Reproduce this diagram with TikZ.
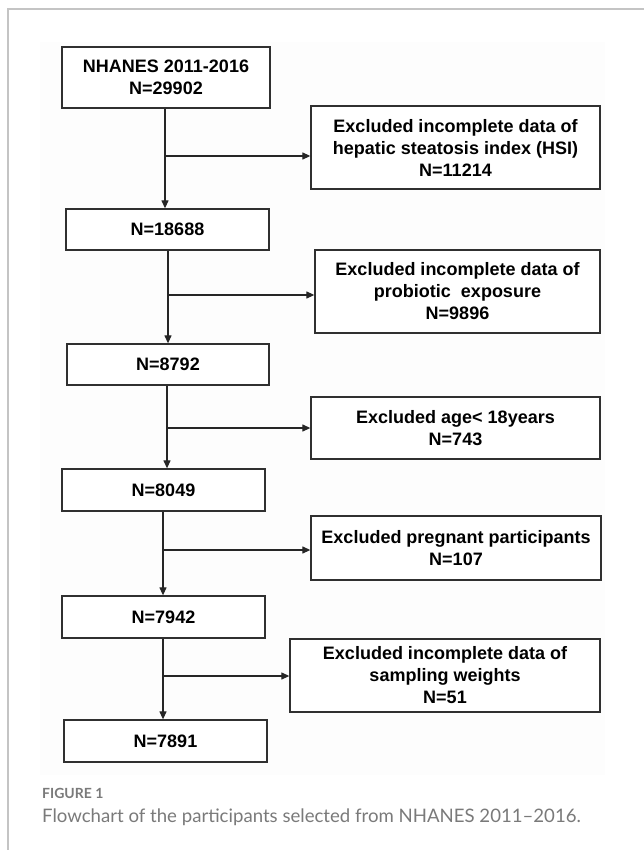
\documentclass[tikz,border=0pt]{standalone}
\usepackage{fontspec}
\setmainfont{Liberation Sans}
\newfontfamily\capfont{Lato}
\usetikzlibrary{arrows.meta}
\definecolor{cardline}{HTML}{C4C4C4}
\definecolor{bgfaint}{HTML}{FDFDFD}
\definecolor{boxline}{HTML}{303030}
\definecolor{capgray}{HTML}{7A7A7A}
\tikzset{
  mbox/.style={draw=boxline, line width=1.3pt, fill=white, inner sep=0pt, align=center,
    font=\fontsize{18}{22}\selectfont\bfseries},
  arr/.style={draw=black!85, line width=1.2pt, -{Triangle[length=8pt,width=7pt]}},
  plain/.style={draw=black!85, line width=1.2pt},
}
\begin{document}
\begin{tikzpicture}[x=1pt,y=-1pt]
\useasboundingbox (0,0) rectangle (644,850);
\fill[white] (0,0) rectangle (644,850);
\fill[bgfaint] (40,42) rectangle (605,775);
\draw[cardline, line width=1.5pt] (8,850) -- (8,9) -- (644,9);

\node[mbox, minimum width=208pt, minimum height=61pt] (b1) at (166,77.5) {NHANES 2011-2016\\N=29902};
\node[mbox, minimum width=289pt, minimum height=83pt] (e1) at (455.5,147.5) {Excluded incomplete data of\\hepatic steatosis index (HSI)\\N=11214};
\node[mbox, minimum width=203pt, minimum height=41pt] (b2) at (167.5,229.5) {N=18688};
\node[mbox, minimum width=285pt, minimum height=83pt] (e2) at (457.5,291.5) {Excluded incomplete data of\\probiotic\ \ exposure\\N=9896};
\node[mbox, minimum width=202pt, minimum height=41pt] (b3) at (168,364.5) {N=8792};
\node[mbox, minimum width=289pt, minimum height=62pt] (e3) at (455.5,428) {Excluded age< 18years\\N=743};
\node[mbox, minimum width=203pt, minimum height=42pt] (b4) at (163.5,490) {N=8049};
\node[mbox, minimum width=290pt, minimum height=64pt] (e4) at (456,548) {Excluded pregnant participants\\N=107};
\node[mbox, minimum width=203pt, minimum height=42pt] (b5) at (163.5,617) {N=7942};
\node[mbox, minimum width=310pt, minimum height=73pt] (e5) at (445,675.5) {Excluded incomplete data of\\sampling weights\\N=51};
\node[mbox, minimum width=203pt, minimum height=42pt] (b6) at (165.5,741) {N=7891};

\coordinate (v1) at (165,156);
\coordinate (v2) at (168,295);
\coordinate (v3) at (167,428);
\coordinate (v4) at (163,550);
\coordinate (v5) at (163,676);

\draw[arr] (b1.south -| v1) -- (b2.north -| v1);
\draw[arr] (v1) -- (v1 -| e1.west);
\draw[arr] (b2.south -| v2) -- (b3.north -| v2);
\draw[arr] (v2) -- (v2 -| e2.west);
\draw[arr] (b3.south -| v3) -- (b4.north -| v3);
\draw[arr] (v3) -- (v3 -| e3.west);
\draw[arr] (b4.south -| v4) -- (b5.north -| v4);
\draw[arr] (v4) -- (v4 -| e4.west);
\draw[arr] (b5.south -| v5) -- (b6.north -| v5);
\draw[arr] (v5) -- (v5 -| e5.west);
\draw[plain] (v5) -- ++(0,-6);

\node[anchor=base west, inner sep=0pt, text=capgray, font=\capfont\fontsize{14}{16}\selectfont\bfseries] (fig) at (42,798) {FIGURE 1};
\node[anchor=base west, inner sep=0pt, text=capgray, font=\capfont\fontsize{18.6}{22}\selectfont] (cap) at (42,822) {Flowchart of the participants selected from NHANES 2011–2016.};
\end{tikzpicture}
\end{document}
